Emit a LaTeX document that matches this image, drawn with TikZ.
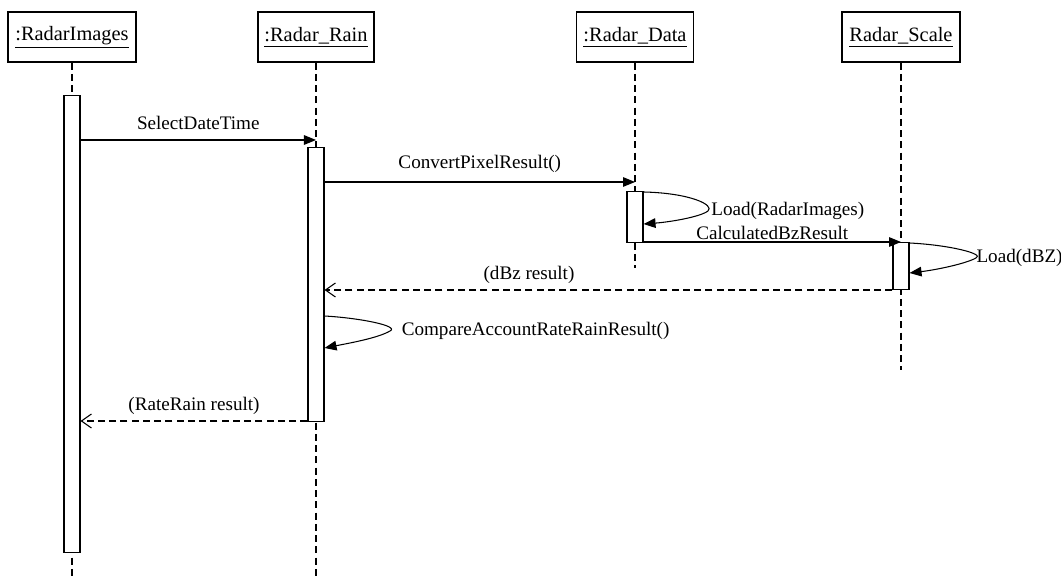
\documentclass[tikz,border=0pt]{standalone}
\usepackage{fontspec}
\setmainfont{Liberation Serif}
\usetikzlibrary{arrows.meta,positioning,calc}

\begin{document}
\begin{tikzpicture}[x=0.025cm,y=-0.025cm,line width=0.75pt,
  obj/.style={draw,line width=0.9pt,minimum height=1.25cm,inner sep=2pt,font=\fontsize{14.5}{16}\selectfont},
  bar/.style={draw,fill=white,minimum width=0.4cm,inner sep=0pt,anchor=north},
  life/.style={dash pattern=on 5pt off 3pt},
  msg/.style={-{Triangle[length=3mm,width=2.4mm]}},
  ret/.style={dash pattern=on 5pt off 3pt,-{Straight Barb[length=2.5mm,width=3.5mm]}},
  lbl/.style={font=\fontsize{13.6}{15}\selectfont,inner sep=1pt}
]
  \useasboundingbox (0,0) rectangle (1061,577);
  % Objects
  \node[obj,minimum width=3.2cm] (img) at (72,37) {\underline{:RadarImages}};
  \node[obj,minimum width=2.9cm] (rain) at (316,37) {\underline{:Radar\_Rain}};
  \node[obj,minimum width=2.925cm] (data) at (635,37) {\underline{:Radar\_Data}};
  \node[obj,minimum width=2.95cm] (scale) at (901,37) {\underline{Radar\_Scale}};
  % Lifelines
  \draw[life] (img.south) -- (img |- 0,577);
  \draw[life] (rain.south) -- (rain |- 0,577);
  \draw[life] (data.south) -- (data |- 0,268);
  \draw[life] (scale.south) -- (scale |- 0,370);
  % Activations
  \node[bar,minimum height=11.425cm] (aImg) at (img |- 0,95) {};
  \node[bar,minimum height=6.85cm] (aRain) at (rain |- 0,147) {};
  \node[bar,minimum height=1.275cm] (aData) at (data |- 0,191) {};
  \node[bar,minimum height=1.175cm] (aScale) at (scale |- 0,242) {};
  % Messages
  \draw[msg] (aImg.east |- 0,140) -- (rain |- 0,140)
    node[lbl,midway,above=6pt] {SelectDateTime};
  \draw[msg] (aRain.east |- 0,182) -- (data |- 0,182)
    node[lbl,midway,above=5pt] {ConvertPixelResult()};
  \draw[msg] (aData.east |- 0,192) .. controls (690,193) and (715,205) .. (708,211)
    node[lbl,right=1pt] {Load(RadarImages)}
    .. controls (700,217) and (670,222) .. (aData.east |- 0,224);
  \draw[msg] (aData.east |- 0,242) -- (scale |- 0,242)
    node[lbl,midway,above=0.5pt] {CalculatedBzResult};
  \draw[msg] (aScale.east |- 0,243) .. controls (950,245) and (985,254) .. (976,258)
    node[lbl,right=-1pt] {Load(dBZ)}
    .. controls (965,264) and (935,270) .. (aScale.east |- 0,273);
  \draw[ret] (aScale.west |- 0,290) -- (aRain.east |- 0,290)
    node[lbl,pos=0.64,above=3pt] {(dBz result)};
  \draw[msg] (aRain.east |- 0,316) .. controls (360,318) and (400,326) .. (390,331)
    node[lbl,right=7pt] {CompareAccountRateRainResult()}
    .. controls (378,338) and (350,343) .. (aRain.east |- 0,348);
  \draw[ret] (aRain.west |- 0,421) -- (aImg.east |- 0,421)
    node[lbl,midway,above=3pt] {(RateRain result)};
\end{tikzpicture}
\end{document}
